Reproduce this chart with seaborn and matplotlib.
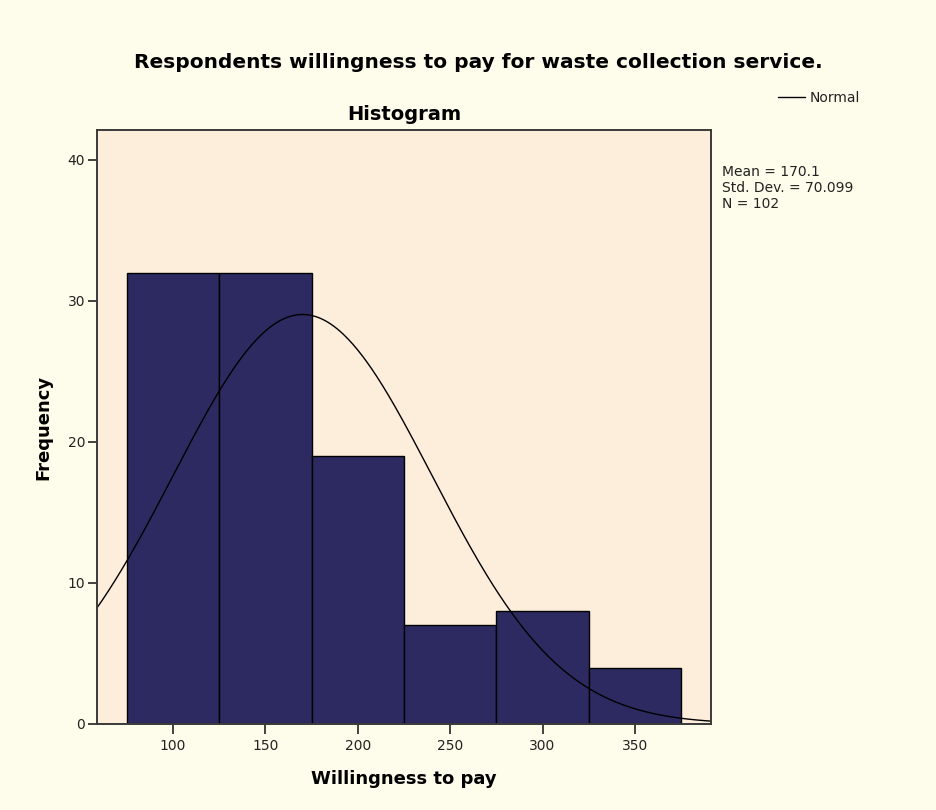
import numpy as np
import pandas as pd
import matplotlib
matplotlib.use("Agg")
import matplotlib.pyplot as plt
import seaborn as sns

sns.set_style("ticks")
plt.rcParams["font.family"] = ["DejaVu Sans"]
plt.rcParams["text.color"] = "black"

# Histogram data
bin_edges = [75, 125, 175, 225, 275, 325, 375]
bin_counts = [32, 32, 19, 7, 8, 4]

# Summary statistics printed on the chart
mean_val = 170.1
std_val = 70.099
n_obs = 102

x_ticks = [100, 150, 200, 250, 300, 350]
y_ticks = [0, 10, 20, 30, 40]

bin_centers = [(a + b) / 2 for a, b in zip(bin_edges[:-1], bin_edges[1:])]
hist_df = pd.DataFrame({"pay": bin_centers, "count": bin_counts})

# Fitted normal curve, scaled to frequency
bin_width = bin_edges[1] - bin_edges[0]
xs = np.linspace(55, 395, 400)
ys = n_obs * bin_width / (std_val * np.sqrt(2 * np.pi)) * np.exp(-0.5 * ((xs - mean_val) / std_val) ** 2)
curve_df = pd.DataFrame({"pay": xs, "freq": ys})

fig = plt.figure(figsize=(9.36, 8.1), dpi=100, facecolor="#FEFDEB")
ax = fig.add_axes([0.1036, 0.1062, 0.6560, 0.7333])
ax.set_facecolor("#FDEEDC")

sns.histplot(data=hist_df, x="pay", weights="count", bins=bin_edges, ax=ax,
             color="#2D2A62", alpha=1, edgecolor="black", linewidth=1)
sns.lineplot(data=curve_df, x="pay", y="freq", ax=ax, color="black", linewidth=1)

ax.set_xlim(58.8, 391.2)
ax.set_ylim(0, 42.1)
ax.set_xticks(x_ticks)
ax.set_yticks(y_ticks)
ax.tick_params(axis="x", direction="out", length=7, width=1.3, pad=4, color="#333333",
               labelsize=10, labelcolor="#222222")
ax.tick_params(axis="y", direction="out", length=6.5, width=1.3, pad=2, color="#333333",
               labelsize=10, labelcolor="#222222")
for s in ax.spines.values():
    s.set_color("#3a3a3a")
    s.set_linewidth(1.4)

ax.set_xlabel("Willingness to pay", fontsize=13, fontweight="bold", labelpad=12, color="black")
ax.set_ylabel("Frequency", fontsize=13, fontweight="bold", labelpad=11, color="black")
ax.set_title("Histogram", fontsize=14, fontweight="bold", pad=7, color="black")

fig.text(0.511, 0.9164, "Respondents willingness to pay for waste collection service.",
         ha="center", va="baseline", fontsize=14.5, fontweight="bold", color="black")

# legend for the normal curve
ax.plot([], [], color="black", linewidth=1, label="Normal")
leg = fig.legend(loc="center left", bbox_to_anchor=(0.825, 0.879), frameon=False, fontsize=10,
                 handlelength=1.95, handletextpad=0.36, borderaxespad=0)
for t in leg.get_texts():
    t.set_color("#222222")

stats_lines = [f"Mean = {mean_val}", f"Std. Dev. = {std_val}", f"N = {n_obs}"]
for line, yb in zip(stats_lines, [0.7831, 0.7633, 0.7428]):
    fig.text(0.771, yb, line, ha="left", va="baseline", fontsize=10, color="#222222")

fig.savefig("out.png", dpi=100, facecolor=fig.get_facecolor())
